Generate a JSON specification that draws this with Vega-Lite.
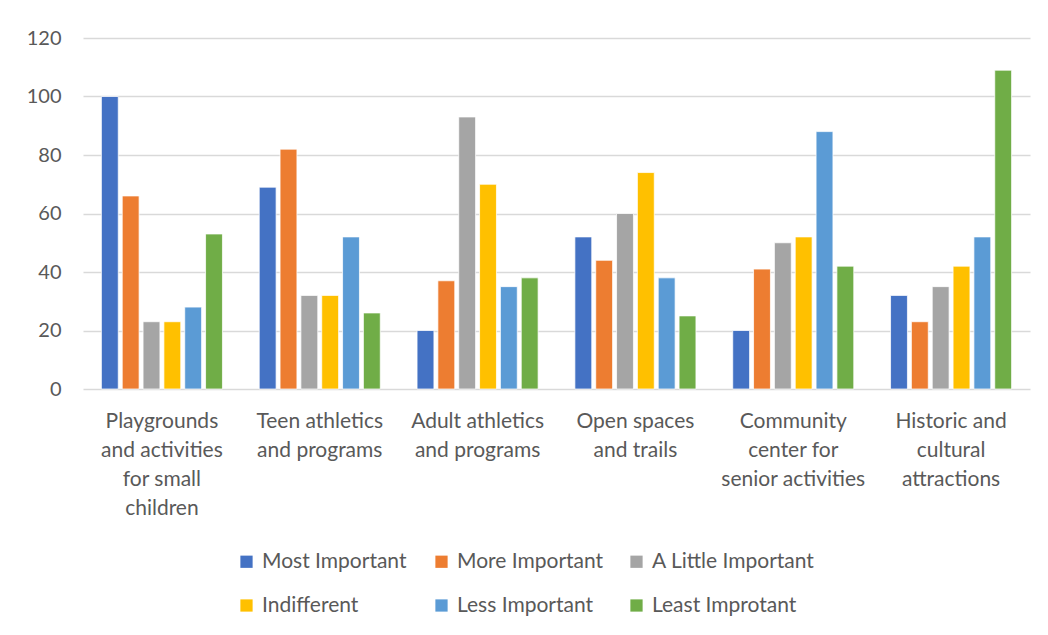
{
  "$schema": "https://vega.github.io/schema/vega-lite/v6.json",
  "width": 947,
  "height": 351,
  "autosize": "none",
  "padding": {"left": 83, "top": 38, "right": 18, "bottom": 246},
  "background": "white",
  "data": {
    "values": [
      {"area": "Playgrounds and activities for small children", "rating": "Most Important", "count": 100},
      {"area": "Playgrounds and activities for small children", "rating": "More Important", "count": 66},
      {"area": "Playgrounds and activities for small children", "rating": "A Little Important", "count": 23},
      {"area": "Playgrounds and activities for small children", "rating": "Indifferent", "count": 23},
      {"area": "Playgrounds and activities for small children", "rating": "Less Important", "count": 28},
      {"area": "Playgrounds and activities for small children", "rating": "Least Improtant", "count": 53},
      {"area": "Teen athletics and programs", "rating": "Most Important", "count": 69},
      {"area": "Teen athletics and programs", "rating": "More Important", "count": 82},
      {"area": "Teen athletics and programs", "rating": "A Little Important", "count": 32},
      {"area": "Teen athletics and programs", "rating": "Indifferent", "count": 32},
      {"area": "Teen athletics and programs", "rating": "Less Important", "count": 52},
      {"area": "Teen athletics and programs", "rating": "Least Improtant", "count": 26},
      {"area": "Adult athletics and programs", "rating": "Most Important", "count": 20},
      {"area": "Adult athletics and programs", "rating": "More Important", "count": 37},
      {"area": "Adult athletics and programs", "rating": "A Little Important", "count": 93},
      {"area": "Adult athletics and programs", "rating": "Indifferent", "count": 70},
      {"area": "Adult athletics and programs", "rating": "Less Important", "count": 35},
      {"area": "Adult athletics and programs", "rating": "Least Improtant", "count": 38},
      {"area": "Open spaces and trails", "rating": "Most Important", "count": 52},
      {"area": "Open spaces and trails", "rating": "More Important", "count": 44},
      {"area": "Open spaces and trails", "rating": "A Little Important", "count": 60},
      {"area": "Open spaces and trails", "rating": "Indifferent", "count": 74},
      {"area": "Open spaces and trails", "rating": "Less Important", "count": 38},
      {"area": "Open spaces and trails", "rating": "Least Improtant", "count": 25},
      {"area": "Community center for senior activities", "rating": "Most Important", "count": 20},
      {"area": "Community center for senior activities", "rating": "More Important", "count": 41},
      {"area": "Community center for senior activities", "rating": "A Little Important", "count": 50},
      {"area": "Community center for senior activities", "rating": "Indifferent", "count": 52},
      {"area": "Community center for senior activities", "rating": "Less Important", "count": 88},
      {"area": "Community center for senior activities", "rating": "Least Improtant", "count": 42},
      {"area": "Historic and cultural attractions", "rating": "Most Important", "count": 32},
      {"area": "Historic and cultural attractions", "rating": "More Important", "count": 23},
      {"area": "Historic and cultural attractions", "rating": "A Little Important", "count": 35},
      {"area": "Historic and cultural attractions", "rating": "Indifferent", "count": 42},
      {"area": "Historic and cultural attractions", "rating": "Less Important", "count": 52},
      {"area": "Historic and cultural attractions", "rating": "Least Improtant", "count": 109}
    ]
  },
  "mark": {"type": "bar", "stroke": "white", "strokeWidth": 0.75},
  "encoding": {
    "x": {
      "field": "area",
      "type": "nominal",
      "sort": null,
      "title": null,
      "scale": {"paddingInner": 0.233, "paddingOuter": 0.1165},
      "axis": {
        "labelAngle": 0,
        "ticks": false,
        "domain": false,
        "labelPadding": 21,
        "labelBaseline": "top",
        "labelFontSize": 21,
        "labelLineHeight": 29,
        "labelLimit": 300,
        "labelExpr": "{'Playgrounds and activities for small children': ['Playgrounds','and activities','for small','children'], 'Teen athletics and programs': ['Teen athletics','and programs'], 'Adult athletics and programs': ['Adult athletics','and programs'], 'Open spaces and trails': ['Open spaces','and trails'], 'Community center for senior activities': ['Community','center for','senior activities'], 'Historic and cultural attractions': ['Historic and','cultural','attractions']}[datum.value]"
      }
    },
    "xOffset": {
      "field": "rating",
      "type": "nominal",
      "sort": ["Most Important", "More Important", "A Little Important", "Indifferent", "Less Important", "Least Improtant"],
      "scale": {"paddingInner": 0.19, "paddingOuter": 0}
    },
    "y": {
      "field": "count",
      "type": "quantitative",
      "title": null,
      "scale": {"domain": [0, 120], "nice": false},
      "axis": {
        "values": [0, 20, 40, 60, 80, 100, 120],
        "ticks": false,
        "domain": false,
        "labelPadding": 22,
        "labelFontSize": 20,
        "gridColor": "#D9D9D9",
        "gridWidth": 1.5
      }
    },
    "color": {
      "field": "rating",
      "type": "nominal",
      "sort": ["Most Important", "More Important", "A Little Important", "Indifferent", "Less Important", "Least Improtant"],
      "scale": {
        "domain": ["Most Important", "More Important", "A Little Important", "Indifferent", "Less Important", "Least Improtant"],
        "range": ["#4472C4", "#ED7D31", "#A5A5A5", "#FFC000", "#5B9BD5", "#70AD47"]
      },
      "legend": {
        "title": null,
        "orient": "none",
        "legendX": 153,
        "legendY": 513,
        "direction": "horizontal",
        "columns": 3,
        "gridAlign": "all",
        "columnPadding": 6,
        "rowPadding": 22,
        "symbolType": "square",
        "symbolSize": 150,
        "symbolStrokeWidth": 0,
        "labelOffset": 5,
        "labelFontSize": 21,
        "labelFont": "Lato",
        "labelColor": "#595959",
        "labelLimit": 300
      }
    }
  },
  "config": {
    "view": {"stroke": null},
    "axis": {
      "labelFont": "Lato",
      "labelFontSize": 19,
      "labelColor": "#595959"
    },
    "axisX": {"grid": false},
    "axisY": {"grid": true}
  }
}
